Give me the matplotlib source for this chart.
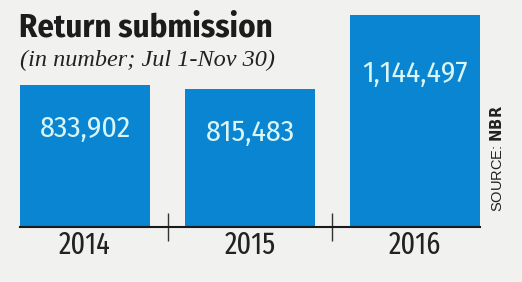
import matplotlib
matplotlib.use("Agg")
import matplotlib.pyplot as plt

# Data
years = ["2014", "2015", "2016"]
returns = [833902, 815483, 1144497]

bg = "#f1f1ef"
bar_color = "#0a85d1"
label_color = "#d9f5f5"
cond = ["Fira Sans Condensed", "PT Sans Narrow", "DejaVu Sans"]
xcond = ["Fira Sans Extra Condensed", "PT Sans Narrow", "DejaVu Sans"]

fig = plt.figure(figsize=(5.22, 2.82), dpi=100, facecolor=bg)
ax = fig.add_axes([20 / 522, 55 / 282, 460 / 522, 212 / 282])
ax.set_facecolor(bg)

x = range(len(years))
ax.bar(x, returns, width=0.788, color=bar_color, zorder=2)
ax.set_xlim(-0.394, 2.394)
ax.set_ylim(200000, max(returns))

# value labels inside the bars (pixel offsets below the bar tops)
offsets = [-44, -44, -59]
for i, v in enumerate(returns):
    ax.annotate(f"{v:,}", (i, v), xytext=(0, offsets[i] * 0.72), textcoords="offset points",
                ha="center", va="center", color=label_color, fontsize=21.5,
                family=cond, zorder=3)

# axis and ticks
for s in ["top", "right", "left"]:
    ax.spines[s].set_visible(False)
ax.spines["bottom"].set_color("#1a1a1a")
ax.spines["bottom"].set_linewidth(1.5)
ax.spines["bottom"].set_zorder(4)
ax.set_yticks([])
ax.set_xticks([0.5, 1.5])
ax.set_xticklabels([])
ax.tick_params(axis="x", direction="inout", length=20, width=1, color="#333333")
for i, y in enumerate(years):
    ax.text(i, -0.088, y, transform=ax.get_xaxis_transform(), ha="center", va="center",
            fontsize=22, family=xcond, color="#222222")

# titles
fig.text(19 / 522, 1 - 28 / 282, "Return submission", fontsize=23.5, fontweight="bold",
         family=cond, color="#1c1c1c", va="center", ha="left")
fig.text(20 / 522, 1 - 60 / 282, "(in number; Jul 1-Nov 30)", fontsize=17.5, style="italic",
         family="Liberation Serif", color="#222222", va="center", ha="left")

# source
fig.text(497 / 522, 1 - 158 / 282, "SOURCE: $\\bf{NBR}$", rotation=90, fontsize=10.5,
         family="Liberation Sans", color="#222222", va="center", ha="center")

fig.savefig("out.png", dpi=100, facecolor=bg)
